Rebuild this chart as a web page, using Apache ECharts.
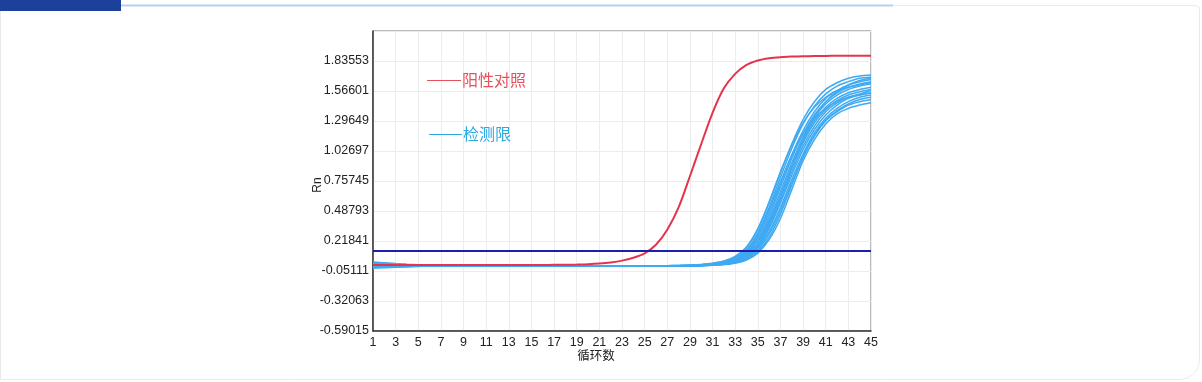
<!DOCTYPE html>
<html><head><meta charset="utf-8">
<script src="https://cdn.jsdelivr.net/npm/echarts@6/dist/echarts.min.js"></script>
<style>html,body{margin:0;padding:0;background:#fff;}#c{width:1202px;height:382px;}</style>
</head><body><div id="c"></div>
<script>
// ---------- data ----------
const cycles = [1,2,3,4,5,6,7,8,9,10,11,12,13,14,15,16,17,18,19,20,21,22,23,24,25,26,27,28,29,30,31,32,33,34,35,36,37,38,39,40,41,42,43,44,45];
const yTicks = [-0.59015,-0.32063,-0.05111,0.21841,0.48793,0.75745,1.02697,1.29649,1.56601,1.83553];
const thresholdValue = 0.128;
const positiveControl = [0.003,0.003,0.002,0.002,0.002,0.002,0.002,0.002,0.002,0.002,0.002,0.002,0.002,0.002,0.003,0.003,0.004,0.005,0.007,0.010,0.016,0.026,0.042,0.068,0.108,0.185,0.32,0.52,0.80,1.09,1.37,1.59,1.72,1.80,1.84,1.86,1.87,1.875,1.878,1.880,1.881,1.882,1.882,1.883,1.883];
const lod01 = [0.030,0.023,0.016,0.010,0.005,0.001,-0.002,-0.003,-0.004,-0.004,-0.005,-0.005,-0.005,-0.005,-0.005,-0.005,-0.005,-0.005,-0.005,-0.005,-0.005,-0.005,-0.005,-0.005,-0.004,-0.004,-0.003,-0.002,0.000,0.006,0.016,0.035,0.075,0.16,0.32,0.56,0.83,1.09,1.31,1.47,1.58,1.64,1.68,1.70,1.71];
const lod02 = [-0.025,-0.021,-0.017,-0.013,-0.010,-0.008,-0.007,-0.006,-0.006,-0.006,-0.006,-0.006,-0.006,-0.006,-0.006,-0.006,-0.006,-0.006,-0.006,-0.006,-0.006,-0.005,-0.005,-0.005,-0.005,-0.004,-0.004,-0.003,-0.001,0.004,0.013,0.030,0.065,0.14,0.29,0.52,0.79,1.05,1.27,1.43,1.54,1.61,1.65,1.68,1.69];
const lod03 = [0.014,0.010,0.006,0.003,0.000,-0.002,-0.004,-0.005,-0.005,-0.005,-0.005,-0.005,-0.005,-0.005,-0.005,-0.005,-0.005,-0.005,-0.005,-0.005,-0.005,-0.005,-0.005,-0.005,-0.005,-0.004,-0.004,-0.003,-0.002,0.003,0.011,0.026,0.058,0.125,0.26,0.47,0.73,0.99,1.21,1.38,1.50,1.57,1.62,1.65,1.67];
const lod04 = [-0.014,-0.012,-0.010,-0.008,-0.007,-0.006,-0.006,-0.006,-0.006,-0.006,-0.006,-0.006,-0.006,-0.006,-0.006,-0.006,-0.006,-0.006,-0.006,-0.006,-0.006,-0.006,-0.005,-0.005,-0.005,-0.005,-0.004,-0.003,-0.002,0.002,0.010,0.024,0.052,0.115,0.24,0.44,0.70,0.96,1.18,1.35,1.47,1.55,1.60,1.63,1.65];
const lod05 = [0.022,0.016,0.010,0.005,0.001,-0.002,-0.004,-0.005,-0.005,-0.005,-0.005,-0.005,-0.005,-0.005,-0.005,-0.005,-0.005,-0.005,-0.005,-0.005,-0.005,-0.005,-0.005,-0.005,-0.005,-0.005,-0.004,-0.004,-0.003,0.001,0.008,0.021,0.048,0.105,0.22,0.41,0.66,0.92,1.15,1.33,1.45,1.53,1.58,1.61,1.63];
const lod06 = [-0.020,-0.016,-0.013,-0.010,-0.008,-0.007,-0.006,-0.006,-0.006,-0.006,-0.006,-0.006,-0.006,-0.006,-0.006,-0.006,-0.006,-0.006,-0.006,-0.006,-0.006,-0.006,-0.006,-0.005,-0.005,-0.005,-0.004,-0.004,-0.003,0.001,0.007,0.019,0.044,0.098,0.21,0.39,0.63,0.89,1.12,1.30,1.42,1.50,1.55,1.58,1.60];
const lod07 = [0.004,0.002,0.000,-0.002,-0.003,-0.004,-0.005,-0.005,-0.005,-0.005,-0.005,-0.005,-0.005,-0.005,-0.005,-0.005,-0.005,-0.005,-0.005,-0.005,-0.005,-0.005,-0.005,-0.005,-0.005,-0.005,-0.005,-0.004,-0.004,0.000,0.006,0.017,0.040,0.090,0.19,0.37,0.61,0.87,1.10,1.28,1.40,1.48,1.53,1.56,1.58];
const lod08 = [0.026,0.019,0.013,0.007,0.003,0.000,-0.002,-0.004,-0.005,-0.005,-0.005,-0.005,-0.005,-0.005,-0.005,-0.005,-0.005,-0.005,-0.005,-0.005,-0.005,-0.005,-0.005,-0.005,-0.005,-0.005,-0.005,-0.004,-0.004,-0.001,0.005,0.015,0.036,0.082,0.18,0.35,0.58,0.84,1.07,1.25,1.38,1.46,1.51,1.54,1.57];
const lod09 = [-0.022,-0.018,-0.015,-0.012,-0.009,-0.008,-0.007,-0.006,-0.006,-0.006,-0.006,-0.006,-0.006,-0.006,-0.006,-0.006,-0.006,-0.006,-0.006,-0.006,-0.006,-0.006,-0.006,-0.006,-0.005,-0.005,-0.005,-0.004,-0.004,-0.001,0.004,0.013,0.032,0.075,0.165,0.33,0.56,0.81,1.04,1.22,1.35,1.44,1.50,1.53,1.55];
const lod10 = [0.008,0.005,0.002,0.000,-0.002,-0.003,-0.004,-0.005,-0.005,-0.005,-0.005,-0.005,-0.005,-0.005,-0.005,-0.005,-0.005,-0.005,-0.005,-0.005,-0.005,-0.005,-0.005,-0.005,-0.005,-0.005,-0.005,-0.005,-0.005,-0.002,0.003,0.011,0.028,0.068,0.15,0.30,0.52,0.77,1.00,1.19,1.32,1.41,1.47,1.51,1.53];
const lod11 = [-0.008,-0.007,-0.006,-0.006,-0.006,-0.006,-0.006,-0.006,-0.006,-0.006,-0.006,-0.006,-0.006,-0.006,-0.006,-0.006,-0.006,-0.006,-0.006,-0.006,-0.006,-0.006,-0.006,-0.006,-0.006,-0.005,-0.005,-0.005,-0.005,-0.002,0.002,0.010,0.025,0.060,0.135,0.28,0.49,0.74,0.97,1.16,1.30,1.39,1.45,1.49,1.51];
const lod12 = [0.018,0.013,0.008,0.004,0.001,-0.001,-0.003,-0.004,-0.005,-0.005,-0.005,-0.005,-0.005,-0.005,-0.005,-0.005,-0.005,-0.005,-0.005,-0.005,-0.005,-0.005,-0.005,-0.005,-0.005,-0.005,-0.005,-0.005,-0.005,-0.003,0.001,0.008,0.022,0.054,0.12,0.25,0.46,0.72,0.98,1.17,1.30,1.38,1.44,1.47,1.49];
const lod13 = [-0.017,-0.014,-0.011,-0.009,-0.008,-0.007,-0.006,-0.006,-0.006,-0.006,-0.006,-0.006,-0.006,-0.006,-0.006,-0.006,-0.006,-0.006,-0.006,-0.006,-0.006,-0.006,-0.006,-0.006,-0.006,-0.006,-0.006,-0.006,-0.006,-0.003,0.000,0.007,0.019,0.048,0.11,0.23,0.42,0.68,0.94,1.13,1.27,1.36,1.41,1.44,1.46];
const lod14 = [0.010,0.007,0.004,0.001,-0.001,-0.003,-0.004,-0.005,-0.005,-0.005,-0.005,-0.005,-0.005,-0.005,-0.005,-0.005,-0.005,-0.005,-0.005,-0.005,-0.005,-0.005,-0.005,-0.005,-0.005,-0.005,-0.005,-0.004,-0.004,-0.001,0.004,0.013,0.034,0.080,0.18,0.36,0.61,0.88,1.13,1.33,1.47,1.56,1.62,1.66,1.68];
const lod15 = [-0.004,-0.004,-0.005,-0.005,-0.005,-0.005,-0.005,-0.005,-0.005,-0.005,-0.005,-0.005,-0.005,-0.005,-0.005,-0.005,-0.005,-0.005,-0.005,-0.005,-0.005,-0.005,-0.005,-0.005,-0.005,-0.004,-0.004,-0.003,-0.002,0.003,0.012,0.028,0.062,0.135,0.28,0.50,0.75,0.99,1.18,1.32,1.41,1.47,1.51,1.53,1.55];
const lod16 = [0.001,0.000,-0.001,-0.002,-0.003,-0.004,-0.004,-0.005,-0.005,-0.005,-0.005,-0.005,-0.005,-0.005,-0.005,-0.005,-0.005,-0.005,-0.005,-0.005,-0.005,-0.005,-0.004,-0.004,-0.004,-0.003,-0.003,-0.002,0.001,0.007,0.018,0.038,0.080,0.165,0.33,0.57,0.84,1.08,1.28,1.42,1.51,1.57,1.60,1.62,1.64];
const lodCurves = [lod01,lod02,lod03,lod04,lod05,lod06,lod07,lod08,lod09,lod10,lod11,lod12,lod13,lod14,lod15,lod16];
const legendLabels = ['阳性对照','检测限'];
const xAxisName = '循环数';
const yAxisName = 'Rn';

// ---------- chart ----------
const pairs = arr => cycles.map((c, i) => [c, arr[i]]);
const yMin = yTicks[0];
const yStep = yTicks[1] - yTicks[0];
const yTop = yTicks[yTicks.length - 1];
const yMax = yTop + yStep;
const FONT = '"Liberation Sans", Arial, sans-serif';
const CJK = '"Noto Sans CJK SC", sans-serif';

const series = [];
lodCurves.forEach((arr, k) => {
  series.push({
    type: 'line', name: legendLabels[1] + (k + 1), data: pairs(arr), showSymbol: false, smooth: 0.3,
    lineStyle: { color: '#3fa9f2', width: 1.5 }, z: 2
  });
});
series.push({
  type: 'line', name: legendLabels[0], data: pairs(positiveControl), showSymbol: false, smooth: 0.3,
  lineStyle: { color: '#e4344c', width: 2 }, z: 3
});
series.push({
  type: 'line', name: 'threshold', data: [[cycles[0], thresholdValue], [cycles[cycles.length - 1], thresholdValue]],
  showSymbol: false, lineStyle: { color: '#1c1cae', width: 2 }, z: 4
});

const chart = echarts.init(document.getElementById('c'), null, { renderer: 'canvas' });
chart.setOption({
  animation: false,
  backgroundColor: '#ffffff',
  grid: { left: 373, right: 331, top: 31, bottom: 51, show: true, borderColor: '#777', borderWidth: 1, backgroundColor: '#fff' },
  xAxis: {
    type: 'value', min: cycles[0], max: cycles[cycles.length - 1], interval: 2,
    axisLine: { show: true, onZero: false, lineStyle: { color: '#333', width: 1.5 } },
    axisTick: { show: false },
    axisLabel: { color: '#222', fontSize: 12.5, fontFamily: FONT, margin: 5 },
    splitLine: { show: true, lineStyle: { color: '#ececec', width: 1 } }
  },
  yAxis: {
    type: 'value', min: yMin, max: yMax, interval: yStep,
    axisLine: { show: true, onZero: false, lineStyle: { color: '#333', width: 1.5 } },
    axisTick: { show: false },
    axisLabel: { color: '#222', fontSize: 12.5, fontFamily: FONT, margin: 4,
      formatter: v => (v > yTop + yStep / 2 ? '' : v.toFixed(5)) },
    splitLine: { show: true, lineStyle: { color: '#ececec', width: 1 } }
  },
  series: series,
  graphic: [
    { type: 'rect', z: -10, shape: { x: 0.5, y: 5.5, width: 1199, height: 374, r: [0, 4, 20, 0] },
      style: { fill: 'none', stroke: '#eaeaea', lineWidth: 1 } },
    { type: 'rect', shape: { x: 0, y: 0, width: 121, height: 11 }, style: { fill: '#1b419b' } },
    { type: 'line', shape: { x1: 121, y1: 5.5, x2: 893, y2: 5.5 }, style: { stroke: '#b9cff0', lineWidth: 2 } },
    { type: 'line', z: 10, shape: { x1: 427, y1: 80.5, x2: 461, y2: 80.5 }, style: { stroke: '#e8505c', lineWidth: 1 } },
    { type: 'text', z: 10, x: 462, y: 80, style: { text: legendLabels[0], fill: '#e8505c', font: '16px ' + CJK, textVerticalAlign: 'middle' } },
    { type: 'line', z: 10, shape: { x1: 429, y1: 134.5, x2: 462, y2: 134.5 }, style: { stroke: '#2aa9e4', lineWidth: 1 } },
    { type: 'text', z: 10, x: 463, y: 134, style: { text: legendLabels[1], fill: '#2aa9e4', font: '16px ' + CJK, textVerticalAlign: 'middle' } },
    { type: 'text', x: 596, y: 355, style: { text: xAxisName, fill: '#222', font: '12.5px ' + CJK, textAlign: 'center', textVerticalAlign: 'middle' } },
    { type: 'text', x: 318, y: 185, rotation: Math.PI / 2, style: { text: yAxisName, fill: '#222', font: '12px ' + FONT, textAlign: 'center', textVerticalAlign: 'middle' } }
  ]
});
</script>
</body></html>
